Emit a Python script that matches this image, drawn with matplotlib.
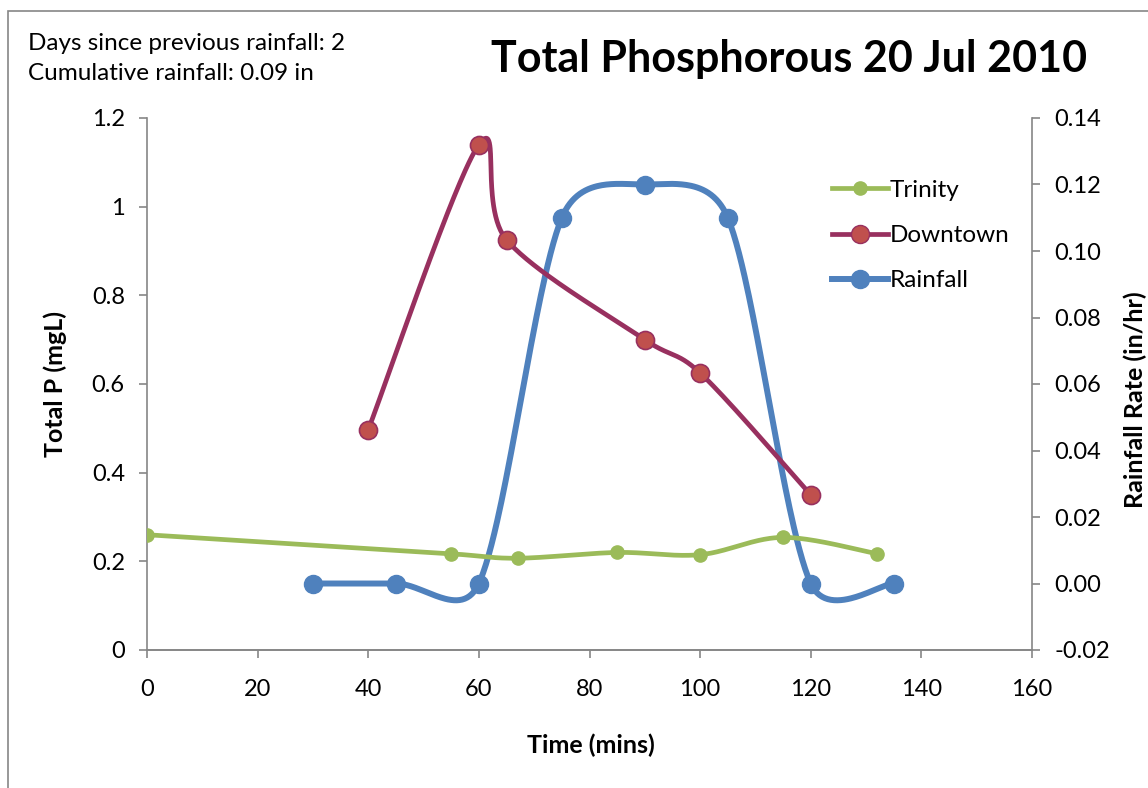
import numpy as np
import matplotlib
matplotlib.use("Agg")
import matplotlib.pyplot as plt
from matplotlib.lines import Line2D
from matplotlib.patches import Rectangle

# ---- data ----
trinity_x = [0, 55, 67, 85, 100, 115, 132]
trinity_y = [0.26, 0.217, 0.207, 0.22, 0.215, 0.254, 0.217]

downtown_x = [40, 60, 65, 90, 100, 120]
downtown_y = [0.497, 1.14, 0.925, 0.70, 0.625, 0.35]

rain_x = [30, 45, 60, 75, 90, 105, 120, 135]
rain_y = [0.0, 0.0, 0.0, 0.11, 0.12, 0.11, 0.0, 0.0]

title = "Total Phosphorous 20 Jul 2010"
note_lines = ["Days since previous rainfall: 2", "Cumulative rainfall: 0.09 in"]

GREEN = "#9BBB59"
DT_LINE = "#98305F"
DT_FILL = "#C0504D"
BLUE = "#4F81BD"
AXC = "#868686"

FONT = "Lato"
plt.rcParams['font.family'] = [FONT, 'DejaVu Sans']

W, H = 1148, 788
fig = plt.figure(figsize=(W / 100, H / 100), dpi=100)
ax = fig.add_axes([147 / W, 1 - 650 / H, (1032 - 147) / W, (650 - 118) / H])
ax2 = ax.twinx()

ax.set_xlim(0, 160)
ax.set_ylim(0, 1.2)
ax2.set_ylim(-0.02, 0.14)


def excel_smooth(axis, xs, ys, n=60):
    """Excel-like smoothed line computed in display space."""
    pts = axis.transData.transform(np.column_stack([xs, ys]))
    out = [pts[0]]
    m = len(pts)
    for i in range(m - 1):
        p0 = pts[i - 1] if i > 0 else pts[i]
        p1 = pts[i]
        p2 = pts[i + 1]
        p3 = pts[i + 2] if i + 2 < m else pts[i + 1]
        d12 = np.hypot(*(p2 - p1))
        v1 = (p2 - p0) / 6.0
        v2 = (p3 - p1) / 6.0
        for v in (v1, v2):
            L = np.hypot(*v)
            if L > d12 / 2 and L > 0:
                v *= (d12 / 2) / L
        c1 = p1 + v1
        c2 = p2 - v2
        t = np.linspace(0, 1, n)[1:, None]
        seg = ((1 - t) ** 3) * p1 + 3 * ((1 - t) ** 2) * t * c1 + 3 * (1 - t) * t ** 2 * c2 + t ** 3 * p2
        out.extend(seg)
    out = np.array(out)
    return axis.transData.inverted().transform(out)


for a in (ax, ax2):
    a.set_xlim(0, 160)

sm = excel_smooth(ax2, rain_x, rain_y)
ax2.plot(sm[:, 0], sm[:, 1], color=BLUE, lw=4.3, solid_capstyle='round', zorder=2)
ax2.plot(rain_x, rain_y, 'o', color=BLUE, ms=13, mec=BLUE, zorder=3)

sm = excel_smooth(ax, trinity_x, trinity_y)
ax.plot(sm[:, 0], sm[:, 1], color=GREEN, lw=3.4, solid_capstyle='round', zorder=2)
ax.plot(trinity_x, trinity_y, 'o', color=GREEN, ms=9.5, mec=GREEN, zorder=3)

sm = excel_smooth(ax, downtown_x, downtown_y)
ax.plot(sm[:, 0], sm[:, 1], color=DT_LINE, lw=3.4, solid_capstyle='round', zorder=2)
ax.plot(downtown_x, downtown_y, 'o', color=DT_FILL, ms=13, mec=DT_LINE, mew=1.2, zorder=3)

ax.set_zorder(ax2.get_zorder() + 1)
ax.patch.set_visible(False)

# axes styling
ax.set_xticks(np.arange(0, 161, 20))
ax.set_yticks(np.arange(0, 1.21, 0.2))
ax.set_yticklabels(["0", "0.2", "0.4", "0.6", "0.8", "1", "1.2"])
ax2.set_yticks(np.arange(-0.02, 0.1401, 0.02))
ax2.set_yticklabels([f"{v:.2f}" for v in np.arange(-0.02, 0.1401, 0.02)])

for a in (ax, ax2):
    for s in a.spines.values():
        s.set_color(AXC)
        s.set_linewidth(1.2)
    a.spines['top'].set_visible(False)
    a.tick_params(colors=AXC, labelcolor='black', length=6, width=1.2, labelsize=17)
ax.spines['right'].set_visible(False)
ax2.spines['left'].set_visible(False)
ax.tick_params(axis='x', pad=15)
ax.tick_params(axis='y', pad=10)
ax2.tick_params(axis='y', pad=10)

# axis titles
fig.text(591 / W, 1 - 745 / H, "Time (mins)", ha='center', va='center',
         fontsize=18, fontweight='bold')
fig.text(55 / W, 1 - 384 / H, "Total P (mgL)", ha='center', va='center',
         rotation=90, fontsize=18, fontweight='bold')
fig.text(1135 / W, 1 - 400 / H, "Rainfall Rate (in/hr)", ha='center', va='center',
         rotation=90, fontsize=18, fontweight='bold')

# legend
handles = [
    Line2D([], [], color=GREEN, lw=3.4, marker='o', ms=9.5, mec=GREEN),
    Line2D([], [], color=DT_LINE, lw=3.4, marker='o', ms=13, mfc=DT_FILL, mec=DT_LINE),
    Line2D([], [], color=BLUE, lw=4.3, marker='o', ms=13, mec=BLUE),
]
ax.legend(handles, ["Trinity", "Downtown", "Rainfall"], loc='upper left',
          bbox_to_anchor=((822 - 147) / (1032 - 147), (650 - 170) / (650 - 118)),
          frameon=False, fontsize=17.5, handlelength=2.3, handletextpad=0.1,
          labelspacing=1.0, borderaxespad=0)

# title and notes
fig.text(789 / W, 1 - 72 / H, title, ha='center', va='baseline', fontsize=31, fontweight='bold')
fig.text(28 / W, 1 - 50 / H, note_lines[0], ha='left', va='baseline', fontsize=17.5)
fig.text(28 / W, 1 - 80 / H, note_lines[1], ha='left', va='baseline', fontsize=17.5)

# outer chart frame
fig.patches.append(Rectangle((7.5 / W, -0.1), 1.2, (1 - 10.5 / H) + 0.1, transform=fig.transFigure,
                             fill=False, edgecolor=AXC, lw=1.2))

fig.savefig("out.png", dpi=100)
